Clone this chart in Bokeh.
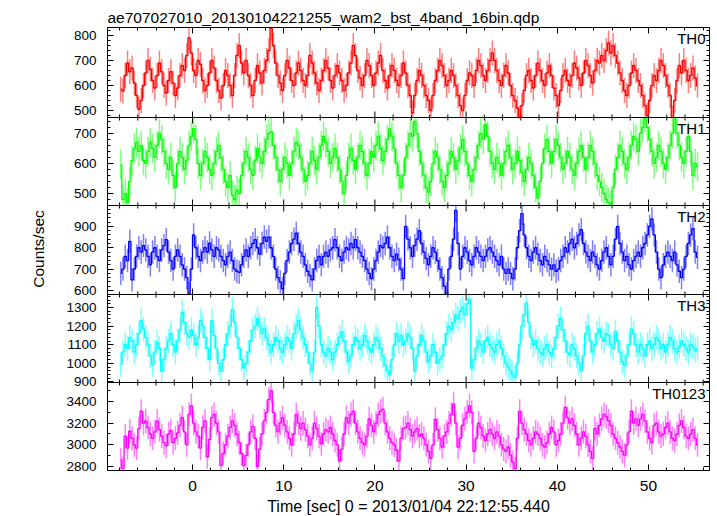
import numpy as np
from bokeh.plotting import figure
from bokeh.models import (Range1d, LinearAxis, SingleIntervalTicker, FixedTicker, Label,
                          ColumnDataSource, Span)
from bokeh.embed import file_html
from bokeh.resources import INLINE

TITLE = "ae707027010_20130104221255_wam2_bst_4band_16bin.qdp"
X_LABEL = "Time [sec] 0 = 2013/01/04 22:12:55.440"
Y_LABEL = "Counts/sec"
BAND_NAMES = ["TH0", "TH1", "TH2", "TH3", "TH0123"]
T_START = -7.875
BIN_WIDTH = 0.25

TH0 = [585, 578, 640, 690, 655, 670, 610, 560, 505, 540,
       600, 650, 700, 665, 620, 590, 640, 690, 655, 600,
       570, 620, 655, 610, 560, 590, 640, 680, 660, 720,
       790, 730, 660, 640, 700, 685, 620, 580, 600, 650,
       700, 670, 620, 580, 550, 600, 660, 640, 600, 560,
       640, 720, 760, 690, 650, 700, 640, 600, 560, 620,
       680, 650, 610, 660, 700, 740, 830, 760, 690, 640,
       610, 580, 640, 700, 670, 620, 600, 650, 690, 660,
       620, 600, 640, 720, 690, 650, 610, 580, 620, 660,
       700, 670, 620, 590, 640, 680, 650, 620, 580, 600,
       650, 690, 760, 720, 660, 630, 600, 640, 700, 680,
       640, 600, 650, 690, 720, 660, 620, 590, 640, 680,
       660, 620, 600, 640, 690, 650, 600, 560, 490, 560,
       620, 660, 640, 600, 560, 540, 500, 560, 620, 660,
       700, 680, 640, 600, 620, 660, 640, 600, 560, 520,
       500, 560, 620, 650, 640, 600, 660, 700, 680, 640,
       620, 660, 700, 730, 700, 660, 620, 600, 640, 680,
       650, 600, 560, 540, 510, 470, 520, 580, 640, 660,
       620, 590, 640, 690, 660, 620, 600, 650, 680, 640,
       590, 560, 520, 580, 640, 660, 620, 600, 640, 690,
       670, 630, 600, 650, 700, 680, 640, 610, 660, 700,
       690, 720, 700, 740, 770, 730, 760, 720, 690, 650,
       620, 580, 560, 600, 650, 680, 660, 620, 600, 560,
       520, 480, 540, 600, 640, 620, 660, 700, 680, 640,
       600, 560, 470, 540, 620, 680, 650, 700, 660, 620,
       640, 670, 630, 600]

TH1 = [595, 480, 500, 470, 540, 610, 650, 670, 640, 660,
       610, 600, 640, 670, 650, 620, 660, 700, 680, 640,
       600, 580, 620, 560, 520, 600, 640, 620, 580, 610,
       660, 690, 716, 680, 600, 560, 600, 640, 620, 580,
       560, 600, 640, 660, 620, 580, 540, 520, 560, 495,
       480, 510, 500, 560, 600, 640, 620, 580, 560, 610,
       650, 620, 600, 640, 680, 700, 705, 660, 620, 580,
       540, 580, 620, 600, 560, 600, 640, 670, 660, 620,
       580, 540, 560, 600, 640, 610, 580, 620, 660, 690,
       670, 640, 600, 620, 650, 620, 580, 540, 500, 560,
       620, 650, 610, 580, 620, 660, 640, 600, 560, 600,
       640, 620, 660, 690, 650, 610, 640, 680, 715, 690,
       650, 600, 560, 520, 560, 620, 660, 700, 690, 740,
       700, 640, 600, 560, 520, 505, 540, 600, 640, 620,
       580, 540, 520, 560, 600, 640, 620, 580, 610, 650,
       680, 640, 600, 560, 540, 580, 620, 660, 700, 680,
       730, 690, 640, 600, 580, 620, 600, 560, 600, 640,
       660, 620, 580, 600, 640, 610, 570, 540, 580, 620,
       600, 560, 520, 485, 540, 600, 650, 680, 640, 600,
       640, 680, 660, 620, 580, 600, 640, 620, 580, 560,
       600, 640, 660, 620, 580, 620, 660, 640, 600, 560,
       540, 520, 500, 480, 470, 460, 520, 580, 620, 660,
       640, 600, 580, 620, 660, 690, 680, 640, 700, 720,
       750, 720, 680, 640, 600, 620, 660, 640, 600, 580,
       620, 660, 700, 750, 700, 660, 620, 600, 640, 690,
       640, 560, 600, 590]

TH2 = [680, 700, 760, 740, 830, 650, 700, 760, 800, 780,
       810, 790, 760, 720, 780, 800, 760, 740, 790, 810,
       838, 780, 740, 700, 760, 790, 760, 720, 700, 660,
       585, 700, 860, 800, 760, 740, 780, 800, 780, 822,
       790, 760, 800, 790, 760, 740, 720, 760, 780, 740,
       700, 690, 685, 720, 760, 790, 760, 800, 820, 838,
       800, 770, 820, 850, 830, 850, 800, 760, 700, 660,
       640, 608, 680, 740, 780, 820, 840, 868, 820, 780,
       760, 720, 690, 670, 650, 700, 740, 760, 720, 760,
       780, 760, 790, 800, 838, 800, 760, 740, 780, 800,
       790, 820, 800, 838, 800, 780, 760, 740, 700, 680,
       655, 700, 740, 780, 810, 800, 820, 850, 800, 760,
       740, 770, 745, 700, 655, 900, 840, 800, 760, 810,
       840, 880, 820, 780, 750, 720, 760, 800, 780, 740,
       700, 660, 620, 585, 700, 760, 840, 975, 820, 700,
       760, 800, 780, 740, 720, 760, 800, 780, 760, 740,
       760, 790, 800, 780, 760, 740, 720, 760, 700, 680,
       700, 680, 655, 700, 800, 880, 960, 860, 800, 760,
       740, 780, 800, 770, 740, 720, 760, 740, 720, 700,
       720, 690, 700, 740, 760, 800, 780, 820, 840, 800,
       820, 860, 885, 820, 780, 760, 740, 780, 760, 720,
       700, 740, 780, 800, 760, 720, 760, 840, 900, 820,
       780, 740, 760, 720, 700, 740, 760, 780, 760, 800,
       820, 860, 900, 935, 860, 780, 700, 660, 720, 760,
       780, 760, 740, 780, 720, 690, 660, 700, 760, 820,
       860, 890, 780, 755]

TH3 = [993, 1060, 1100, 1080, 1140, 1120, 1060, 1100, 1160, 1230,
       1185, 1140, 1100, 1040, 993, 1060, 1115, 1080, 958, 1020,
       1080, 1120, 1160, 1100, 1060, 1120, 1180, 1274, 1220, 1160,
       1140, 1180, 1150, 1100, 1140, 1230, 1200, 1140, 1080, 1020,
       1230, 1150, 1080, 1000, 958, 1020, 1100, 1160, 1200, 1290,
       1220, 1140, 1080, 1020, 975, 1000, 1060, 1120, 1180, 1200,
       1240, 1200, 1160, 1185, 1140, 1100, 1060, 1100, 1140, 1120,
       1080, 1060, 1100, 1140, 1120, 1080, 1160, 1200, 1230, 1180,
       1140, 1100, 1060, 1000, 958, 1060, 1300, 1200, 1100, 1060,
       1040, 1080, 1060, 1020, 1060, 1100, 1140, 1170, 1120, 1060,
       1010, 1040, 1100, 1140, 1120, 1080, 1100, 1150, 1120, 1080,
       1060, 1100, 1140, 1120, 1080, 1040, 990, 960, 940, 1020,
       1100, 1160, 1120, 1150, 1100, 1120, 1160, 1140, 1080, 958,
       1040, 1100, 1150, 1120, 1060, 1010, 1040, 1100, 1060, 1000,
       1020, 1040, 1100, 1160, 1200, 1180, 1220, 1260, 1240, 1280,
       1300, 1260, 1320, 1345, 975, 1020, 1080, 1120, 1100, 1060,
       1120, 1140, 1100, 1080, 1060, 1100, 1120, 1080, 1040, 1000,
       980, 960, 940, 923, 1000, 1100, 1200, 1260, 1325, 1220,
       1140, 1100, 1120, 1080, 1060, 1045, 1080, 1100, 1060, 1040,
       1080, 1140, 1200, 1240, 1180, 1120, 1060, 1045, 1100, 1080,
       1040, 1000, 960, 1040, 1160, 1200, 1120, 1060, 1100, 1160,
       1185, 1140, 1120, 1160, 1150, 1100, 1080, 1170, 1120, 1060,
       1010, 990, 1040, 1100, 1185, 1160, 1100, 1060, 1100, 1080,
       1040, 1100, 1120, 1080, 1100, 1140, 1120, 1080, 1100, 1060,
       1100, 1140, 1120, 1080, 1060, 1090, 1120, 1100, 1080, 1060,
       1100, 1090, 1070, 1080]

TH0123 = [2860, 2780, 3080, 2970, 3125, 3060, 3000, 2970, 3150, 3310,
          3200, 3220, 3160, 3100, 3060, 3120, 3220, 3140, 3080, 3020,
          2990, 3100, 3130, 3020, 3060, 3110, 3180, 3250, 3120, 3000,
          3280, 3360, 3200, 3120, 3080, 2970, 3160, 3220, 2890, 3050,
          3250, 3280, 3200, 3120, 2810, 2920, 3000, 3080, 3160, 3220,
          3180, 3100, 3020, 2920, 2810, 2900, 3000, 3120, 3170, 3060,
          2800, 2960, 3100, 3220, 3300, 3420, 3500, 3300, 3180, 3120,
          3200, 3250, 3180, 3120, 3060, 3000, 3100, 3280, 3200, 3150,
          3200, 3140, 3080, 3000, 3060, 3200, 3150, 3080, 3010, 3100,
          3140, 3120, 3160, 3100, 3040, 3000, 2850, 2960, 3100, 3250,
          3200, 3280, 3310, 3200, 3120, 3060, 3020, 3000, 3080, 3240,
          3180, 3120, 3200, 3280, 3310, 3330, 3200, 3120, 3060, 3020,
          3000, 2950, 2850, 3060, 3150, 3160, 3200, 3140, 3080, 3120,
          3150, 3080, 3100, 3060, 3000, 2940, 2875, 3000, 3235, 3140,
          3060, 2980, 3080, 3120, 3200, 3280, 3375, 3200, 2980, 3060,
          3180, 3240, 3300, 3360, 3300, 2940, 3060, 3200, 3160, 3080,
          3040, 3100, 3140, 3100, 3060, 3120, 3080, 3000, 2960, 2940,
          2980, 2905, 2840, 2780, 3060, 3310, 3200, 3140, 3100, 3040,
          3000, 3060, 3120, 3100, 3060, 3000, 2980, 3020, 3100, 3160,
          3120, 3000, 3040, 3100, 3200, 3345, 3250, 3200, 3240, 3180,
          3100, 3000, 3060, 3120, 3080, 3000, 2940, 2875, 3150, 3100,
          3180, 3240, 3280, 3260, 3220, 3180, 3100, 3060, 3020, 2980,
          2940, 2905, 3000, 3120, 3310, 3200, 3240, 3180, 3240, 3280,
          3220, 3120, 3060, 3020, 3180, 3200, 3120, 3080, 3100, 3160,
          3200, 3120, 3060, 3040, 3100, 3180, 3220, 3160, 3080, 3060,
          3100, 3140, 3060, 3000]

SERIES = [TH0, TH1, TH2, TH3, TH0123]
ERRORS = [50, 49, 55, 66, 111]          # typical 1-sigma error per band (counts/sec)
Y_RANGES = [(472, 832), (460, 753), (581, 998), (897, 1370), (2763, 3575)]
Y_MAJOR = [100, 100, 100, 100, 200]
Y_MINOR_STEP = [20, 20, 20, 20, 100]
X_RANGE = (-9.32, 56.69)
X_MAJOR = 10
X_MINOR = 2
COLORS = ["#ff0000", "#00ff00", "#0000ff", "#00ffff", "#ff00ff"]
PANEL_PX = [90, 88, 89, 88, 88]   # panel heights (layout units = pixels)

FONT = "Liberation Sans"
H_TOTAL = sum(PANEL_PX)
bottoms = []
acc = H_TOTAL
for h in PANEL_PX:
    acc -= h
    bottoms.append(acc)


def to_layout(k, v):
    lo, hi = Y_RANGES[k]
    return round(bottoms[k] + (v - lo) / (hi - lo) * PANEL_PX[k], 4)


p = figure(frame_width=602, frame_height=H_TOTAL, x_range=Range1d(*X_RANGE),
           y_range=Range1d(0, H_TOTAL), output_backend="svg", toolbar_location=None,
           x_axis_location=None, y_axis_location=None,
           min_border_left=107, min_border_right=7, min_border_top=27,
           min_border_bottom=0, title=TITLE)
p.grid.visible = False
p.outline_line_color = "black"
p.outline_line_width = 1
p.background_fill_color = "white"
p.border_fill_color = "white"
p.title.text_font = FONT
p.title.text_font_size = "15.5px"
p.title.text_font_style = "normal"
p.title.text_color = "black"
p.title.standoff = 4
p.title.offset = 0


def tick_style(ax, show_labels):
    ax.major_tick_in = 6
    ax.major_tick_out = 0
    ax.minor_tick_in = 3
    ax.minor_tick_out = 0
    ax.axis_line_color = "black"
    ax.major_tick_line_color = "black"
    ax.minor_tick_line_color = "black"
    if show_labels:
        ax.major_label_text_font = FONT
        ax.major_label_text_color = "black"
        ax.axis_label_text_color = "black"
    else:
        ax.major_label_text_color = None
        ax.major_label_text_font_size = "1px"
        ax.major_label_standoff = 0


# x axes (top without labels, bottom with labels)
top = LinearAxis(ticker=SingleIntervalTicker(interval=X_MAJOR, num_minor_ticks=X_MAJOR // X_MINOR))
tick_style(top, False)
p.add_layout(top, "above")
bottom = LinearAxis(ticker=SingleIntervalTicker(interval=X_MAJOR, num_minor_ticks=X_MAJOR // X_MINOR))
tick_style(bottom, True)
bottom.major_label_text_font_size = "15.5px"
bottom.major_label_standoff = 10
bottom.axis_label = X_LABEL
bottom.axis_label_text_font = FONT
bottom.axis_label_text_font_size = "16px"
bottom.axis_label_text_font_style = "normal"
bottom.axis_label_standoff = 4
p.add_layout(bottom, "below")

# y ticks of all panels on one shared left/right axis
major_pos, minor_pos, overrides = [], [], {}
for k in range(5):
    lo, hi = Y_RANGES[k]
    step = Y_MAJOR[k]
    mstep = Y_MINOR_STEP[k]
    for v in np.arange(np.ceil(lo / step) * step, hi + 1e-6, step):
        pos = to_layout(k, v)
        major_pos.append(pos)
        overrides[pos] = str(int(v))
    for v in np.arange(np.ceil(lo / mstep) * mstep, hi + 1e-6, mstep):
        if v % step != 0:
            minor_pos.append(to_layout(k, v))

left = LinearAxis(ticker=FixedTicker(ticks=major_pos, minor_ticks=minor_pos))
tick_style(left, True)
left.major_label_text_font_size = "13.5px"
left.major_label_standoff = 11
left.major_label_overrides = overrides
left.axis_label = Y_LABEL
left.axis_label_text_font = FONT
left.axis_label_text_font_size = "15.5px"
left.axis_label_text_font_style = "normal"
left.axis_label_standoff = 16
p.add_layout(left, "left")
right = LinearAxis(ticker=FixedTicker(ticks=major_pos, minor_ticks=minor_pos))
tick_style(right, False)
p.add_layout(right, "right")

# panel separators with inward time ticks on both sides
inner_bounds = bottoms[:-1]
tx0, ty0, tx1, ty1 = [], [], [], []
for b in inner_bounds:
    p.add_layout(Span(location=b, dimension="width", line_color="black", line_width=1))
    for x in np.arange(np.ceil(X_RANGE[0] / X_MINOR) * X_MINOR, X_RANGE[1], X_MINOR):
        L = 6 if x % X_MAJOR == 0 else 3
        tx0.append(x); tx1.append(x); ty0.append(b - L); ty1.append(b + L)
p.segment(x0=tx0, y0=ty0, x1=tx1, y1=ty1, line_color="black", line_width=1)

# data panels, each on its own value scale
for k in range(5):
    name = BAND_NAMES[k]
    lo, hi = Y_RANGES[k]
    scale = (hi - lo) / PANEL_PX[k]
    p.extra_y_ranges[name] = Range1d(lo - bottoms[k] * scale,
                                     hi + (H_TOTAL - bottoms[k] - PANEL_PX[k]) * scale)
    vals = np.array(SERIES[k], dtype=float)
    t = T_START + BIN_WIDTH * np.arange(len(vals))
    err = ERRORS[k]
    src = ColumnDataSource(dict(
        t=t,
        lo=np.clip(vals - err, lo, hi),
        hi=np.clip(vals + err, lo, hi),
        vc=np.clip(vals, lo, hi)))
    p.segment(x0="t", y0="lo", x1="t", y1="hi", source=src, y_range_name=name,
              line_color=COLORS[k], line_width=1.5, line_alpha=0.5)
    p.step(x="t", y="vc", source=src, mode="center", y_range_name=name,
           line_color=COLORS[k], line_width=1.3)
    p.add_layout(Label(x=X_RANGE[1], y=hi, y_range_name=name, x_offset=-4, y_offset=-2,
                       text=name, text_align="right", text_baseline="top",
                       text_font=FONT, text_font_size="15px", text_color="black"))

open("out.html", "w").write(file_html(p, INLINE))
